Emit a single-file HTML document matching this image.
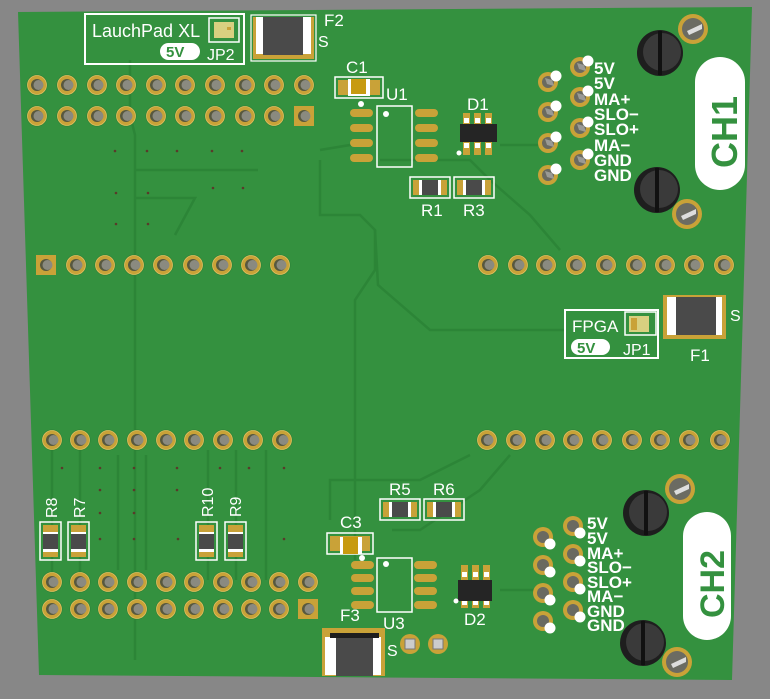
<!DOCTYPE html>
<html><head><meta charset="utf-8"><style>
html,body{margin:0;padding:0;background:#878787;}
svg{display:block}
text{font-family:"Liberation Sans",sans-serif;fill:#fff}
</style></head><body>
<svg width="770" height="699" viewBox="0 0 770 699" xmlns="http://www.w3.org/2000/svg">
<defs>
<g id="pin"><circle r="10.5" fill="#2a7f35"/><circle r="9.5" fill="#c9a238"/><circle r="9.5" fill="none" stroke="#e0c060" stroke-width="0.8"/><circle r="6" fill="#57583f"/><circle cx="1.5" r="5" fill="#8a8a80"/></g>
<g id="spin"><rect x="-10" y="-10" width="20" height="20" fill="#c9a238"/><circle r="6" fill="#57583f"/><circle cx="1.5" r="5" fill="#8a8a80"/></g>
<g id="cpin"><circle r="10" fill="#c9a238"/><circle r="6" fill="#6a6a60"/><path d="M-3,-4 L4,-2 L6,4 L-1,2Z" fill="#9a9a95"/><circle cx="8" cy="-6" r="5.5" fill="#fff"/></g>
<g id="cpinB"><circle r="10" fill="#c9a238"/><circle r="6" fill="#6a6a60"/><circle cx="7" cy="7" r="5.5" fill="#fff"/></g>
<g id="hres"><rect x="0" y="0" width="40" height="21" fill="none" stroke="#fff" stroke-width="1.5"/><rect x="3" y="3" width="34" height="15" fill="#c9a238"/><rect x="9" y="3" width="22" height="15" fill="#fff"/><rect x="12" y="3" width="16" height="15" fill="#4a4a4a"/></g>
<g id="vres"><rect x="0" y="0" width="21" height="38" fill="none" stroke="#fff" stroke-width="1.5"/><rect x="3" y="3" width="15" height="32" fill="#c9a238"/><rect x="3" y="10" width="15" height="20" fill="#fff"/><rect x="3" y="12" width="15" height="15" fill="#4a4a4a"/></g>
<g id="spad"><rect x="0" y="0" width="23" height="8" rx="4" fill="#c9a238"/></g>
<g id="screw"><circle r="23" fill="#1e1e1e"/><circle cx="2" cy="-1" r="19" fill="#3a3a3a"/><rect x="-2" y="-22" width="4" height="44" fill="#111"/></g>
<g id="gpad"><circle r="15" fill="#c9a238"/><circle r="11" fill="#6b6b62"/><path d="M-6,2 L9,-5 L9,0 L-4,6Z" fill="#ddd"/></g>
</defs>
<polygon points="18,12 752,7 732,680 39,675" fill="#34913f"/>
<g fill="none" stroke="#2c8537" stroke-width="2.5">
<polyline points="130,60 130,115 135,135 135,660"/>
<polyline points="135,170 258,170"/>
<polyline points="135,198 195,198 175,235"/>
<polyline points="320,150 350,145 372,145"/>
<polyline points="320,160 320,215 360,215 375,230 375,270 355,300 355,560"/>
<polyline points="375,230 378,285 430,330 565,330"/>
<polyline points="380,160 470,160 490,180 530,215 560,250"/>
<polyline points="500,145 545,145"/>
<polyline points="470,455 420,480 330,480 330,520"/>
<polyline points="510,455 480,490 420,530 392,530"/>
<polyline points="500,590 540,590"/>
<polyline points="52,450 52,580"/><polyline points="80,450 80,580"/><polyline points="118,455 118,570"/><polyline points="146,455 146,570"/><polyline points="208,450 208,580"/><polyline points="236,450 236,580"/><polyline points="266,450 266,580"/>
</g>
<g fill="#5a3a2a">
<circle cx="115" cy="151" r="1.3"/><circle cx="147" cy="151" r="1.3"/><circle cx="177" cy="151" r="1.3"/><circle cx="212" cy="151" r="1.3"/><circle cx="242" cy="151" r="1.3"/>
<circle cx="116" cy="193" r="1.3"/><circle cx="148" cy="193" r="1.3"/><circle cx="116" cy="224" r="1.3"/><circle cx="148" cy="224" r="1.3"/><circle cx="213" cy="188" r="1.3"/><circle cx="243" cy="188" r="1.3"/>
<circle cx="62" cy="468" r="1.3"/><circle cx="100" cy="468" r="1.3"/><circle cx="134" cy="468" r="1.3"/><circle cx="177" cy="468" r="1.3"/><circle cx="220" cy="468" r="1.3"/><circle cx="249" cy="468" r="1.3"/><circle cx="284" cy="468" r="1.3"/>
<circle cx="100" cy="490" r="1.3"/><circle cx="134" cy="490" r="1.3"/><circle cx="177" cy="490" r="1.3"/><circle cx="100" cy="513" r="1.3"/><circle cx="134" cy="513" r="1.3"/><circle cx="100" cy="539" r="1.3"/><circle cx="134" cy="539" r="1.3"/><circle cx="178" cy="539" r="1.3"/><circle cx="284" cy="539" r="1.3"/>
</g>
<!-- LaunchPad box -->
<rect x="85" y="14" width="159" height="50" fill="none" stroke="#fff" stroke-width="2"/>
<text x="92" y="37" font-size="18">LauchPad XL</text>
<rect x="160" y="43" width="40" height="17" rx="8.5" fill="#fff"/>
<text x="166" y="57" font-size="15" font-weight="bold" style="fill:#34913f">5V</text>
<text x="207" y="60" font-size="16">JP2</text>
<rect x="209" y="18" width="30" height="24" fill="none" stroke="#fff" stroke-width="1.5"/>
<rect x="214" y="22" width="20" height="16" fill="#d8d080"/><rect x="227" y="27" width="4" height="3" fill="#c9a238"/>
<!-- F2 -->
<rect x="251" y="15" width="65" height="46" fill="none" stroke="#fff" stroke-width="1.2"/>
<rect x="253" y="17" width="61" height="42" fill="#c9a238"/>
<rect x="256" y="17" width="55" height="37" fill="#fff"/>
<rect x="263" y="17" width="40" height="38" fill="#4a4a4a"/>
<text x="324" y="26" font-size="17">F2</text><text x="318" y="47" font-size="16">S</text>
<!-- top header -->
<g>
<use href="#pin" x="37" y="85"/><use href="#pin" x="67" y="85"/><use href="#pin" x="97" y="85"/><use href="#pin" x="126" y="85"/><use href="#pin" x="156" y="85"/><use href="#pin" x="185" y="85"/><use href="#pin" x="215" y="85"/><use href="#pin" x="245" y="85"/><use href="#pin" x="274" y="85"/><use href="#pin" x="304" y="85"/>
<use href="#pin" x="37" y="116"/><use href="#pin" x="67" y="116"/><use href="#pin" x="97" y="116"/><use href="#pin" x="126" y="116"/><use href="#pin" x="156" y="116"/><use href="#pin" x="185" y="116"/><use href="#pin" x="215" y="116"/><use href="#pin" x="245" y="116"/><use href="#pin" x="274" y="116"/><use href="#spin" x="304" y="116"/>
</g>
<!-- middle rows -->
<use href="#spin" x="46" y="265"/><use href="#pin" x="76" y="265"/><use href="#pin" x="105" y="265"/><use href="#pin" x="134" y="265"/><use href="#pin" x="163" y="265"/><use href="#pin" x="193" y="265"/><use href="#pin" x="222" y="265"/><use href="#pin" x="251" y="265"/><use href="#pin" x="280" y="265"/>
<use href="#pin" x="488" y="265"/><use href="#pin" x="518" y="265"/><use href="#pin" x="546" y="265"/><use href="#pin" x="576" y="265"/><use href="#pin" x="606" y="265"/><use href="#pin" x="636" y="265"/><use href="#pin" x="665" y="265"/><use href="#pin" x="694" y="265"/><use href="#pin" x="724" y="265"/>
<use href="#pin" x="52" y="440"/><use href="#pin" x="80" y="440"/><use href="#pin" x="108" y="440"/><use href="#pin" x="137" y="440"/><use href="#pin" x="166" y="440"/><use href="#pin" x="194" y="440"/><use href="#pin" x="223" y="440"/><use href="#pin" x="253" y="440"/><use href="#pin" x="282" y="440"/>
<use href="#pin" x="487" y="440"/><use href="#pin" x="516" y="440"/><use href="#pin" x="545" y="440"/><use href="#pin" x="573" y="440"/><use href="#pin" x="602" y="440"/><use href="#pin" x="632" y="440"/><use href="#pin" x="660" y="440"/><use href="#pin" x="689" y="440"/><use href="#pin" x="720" y="440"/>
<!-- bottom header -->
<use href="#pin" x="52" y="582"/><use href="#pin" x="80" y="582"/><use href="#pin" x="108" y="582"/><use href="#pin" x="137" y="582"/><use href="#pin" x="166" y="582"/><use href="#pin" x="194" y="582"/><use href="#pin" x="223" y="582"/><use href="#pin" x="251" y="582"/><use href="#pin" x="279" y="582"/><use href="#pin" x="308" y="582"/>
<use href="#pin" x="52" y="609"/><use href="#pin" x="80" y="609"/><use href="#pin" x="108" y="609"/><use href="#pin" x="137" y="609"/><use href="#pin" x="166" y="609"/><use href="#pin" x="194" y="609"/><use href="#pin" x="223" y="609"/><use href="#pin" x="251" y="609"/><use href="#pin" x="279" y="609"/><use href="#spin" x="308" y="609"/>
<!-- vertical resistors -->
<use href="#vres" x="40" y="522"/><use href="#vres" x="68" y="522"/><use href="#vres" x="196" y="522"/><use href="#vres" x="225" y="522"/>
<text transform="translate(57,518) rotate(-90)" font-size="16">R8</text>
<text transform="translate(85,518) rotate(-90)" font-size="16">R7</text>
<text transform="translate(213,517) rotate(-90)" font-size="16">R10</text>
<text transform="translate(241,517) rotate(-90)" font-size="16">R9</text>
<!-- C1 -->
<rect x="335" y="77" width="48" height="21" fill="none" stroke="#fff" stroke-width="1.5"/>
<rect x="338" y="80" width="42" height="15" fill="#c9a238"/><rect x="348" y="79" width="22" height="17" fill="#fff"/><rect x="351" y="79" width="15" height="15" fill="#c79a10"/>
<text x="346" y="73" font-size="17">C1</text>
<circle cx="361" cy="104" r="3" fill="#fff"/>
<!-- U1 -->
<rect x="377" y="106" width="35" height="61" fill="none" stroke="#fff" stroke-width="1.5"/>
<circle cx="386" cy="114" r="3" fill="#fff"/>
<use href="#spad" x="350" y="109"/><use href="#spad" x="350" y="124"/><use href="#spad" x="350" y="139"/><use href="#spad" x="350" y="154"/>
<use href="#spad" x="415" y="109"/><use href="#spad" x="415" y="124"/><use href="#spad" x="415" y="139"/><use href="#spad" x="415" y="154"/>
<text x="386" y="100" font-size="17">U1</text>
<!-- D1 -->
<g fill="#c9a238"><rect x="463" y="113" width="7" height="13"/><rect x="474" y="113" width="7" height="13"/><rect x="485" y="113" width="7" height="13"/><rect x="463" y="140" width="7" height="15"/><rect x="474" y="140" width="7" height="15"/><rect x="485" y="140" width="7" height="15"/></g>
<g fill="#fff"><rect x="464" y="118" width="5" height="5"/><rect x="475" y="118" width="5" height="5"/><rect x="486" y="118" width="5" height="5"/><rect x="464" y="143" width="5" height="5"/><rect x="475" y="143" width="5" height="5"/><rect x="486" y="143" width="5" height="5"/></g>
<rect x="460" y="124" width="37" height="18" fill="#252525"/>
<circle cx="459" cy="153" r="2.5" fill="#fff"/>
<text x="467" y="110" font-size="17">D1</text>
<use href="#hres" x="410" y="177"/><use href="#hres" x="454" y="177"/>
<text x="421" y="216" font-size="17">R1</text><text x="463" y="216" font-size="17">R3</text>
<!-- CH1 connector -->
<use href="#cpin" x="548" y="82"/><use href="#cpin" x="548" y="112"/><use href="#cpin" x="548" y="143"/><use href="#cpin" x="548" y="175"/>
<use href="#cpin" x="580" y="67"/><use href="#cpin" x="580" y="97"/><use href="#cpin" x="580" y="128"/><use href="#cpin" x="580" y="160"/>
<g font-size="17" font-weight="bold">
<text x="594" y="74">5V</text><text x="594" y="89">5V</text><text x="594" y="105">MA+</text><text x="594" y="120">SLO−</text><text x="594" y="135">SLO+</text><text x="594" y="151">MA−</text><text x="594" y="166">GND</text><text x="594" y="181">GND</text>
</g>
<rect x="695" y="57" width="50" height="133" rx="25" fill="#fff"/>
<text transform="translate(737,168) rotate(-90)" font-size="36" font-weight="bold" style="fill:#34913f">CH1</text>
<use href="#screw" x="660" y="53"/><use href="#screw" x="657" y="190"/>
<use href="#gpad" x="693" y="29"/><use href="#gpad" x="687" y="214"/>
<!-- FPGA -->
<rect x="565" y="310" width="93" height="48" fill="none" stroke="#fff" stroke-width="2"/>
<text x="572" y="332" font-size="17">FPGA</text>
<rect x="571" y="339" width="39" height="16" rx="8" fill="#fff"/>
<text x="577" y="353" font-size="15" font-weight="bold" style="fill:#34913f">5V</text>
<text x="623" y="355" font-size="16">JP1</text>
<rect x="625" y="312" width="31" height="23" fill="none" stroke="#fff" stroke-width="1.5"/>
<rect x="629" y="316" width="20" height="16" fill="#d8d080"/><rect x="631" y="318" width="6" height="12" fill="#c9a238"/>
<!-- F1 -->
<rect x="663" y="295" width="63" height="44" fill="#c9a238"/>
<rect x="667" y="297" width="55" height="38" fill="#fff"/>
<rect x="676" y="297" width="40" height="38" fill="#4a4a4a"/>
<text x="690" y="361" font-size="17">F1</text><text x="730" y="321" font-size="16">S</text>
<!-- bottom components -->
<use href="#hres" x="380" y="499"/><use href="#hres" x="424" y="499"/>
<text x="389" y="495" font-size="17">R5</text><text x="433" y="495" font-size="17">R6</text>
<rect x="327" y="533" width="46" height="21" fill="none" stroke="#fff" stroke-width="1.5"/>
<rect x="330" y="536" width="40" height="15" fill="#c9a238"/><rect x="340" y="537" width="22" height="17" fill="#fff"/><rect x="343" y="537" width="15" height="17" fill="#c79a10"/>
<text x="340" y="528" font-size="17">C3</text>
<circle cx="362" cy="558" r="3" fill="#fff"/>
<rect x="377" y="558" width="35" height="54" fill="none" stroke="#fff" stroke-width="1.5"/>
<circle cx="386" cy="564" r="3" fill="#fff"/>
<use href="#spad" x="351" y="561"/><use href="#spad" x="351" y="574"/><use href="#spad" x="351" y="587"/><use href="#spad" x="351" y="601"/>
<use href="#spad" x="414" y="561"/><use href="#spad" x="414" y="574"/><use href="#spad" x="414" y="587"/><use href="#spad" x="414" y="601"/>
<text x="383" y="629" font-size="17">U3</text>
<g fill="#c9a238"><rect x="461" y="565" width="7" height="15"/><rect x="472" y="565" width="7" height="15"/><rect x="483" y="565" width="7" height="15"/><rect x="461" y="600" width="7" height="8"/><rect x="472" y="600" width="7" height="8"/><rect x="483" y="600" width="7" height="8"/></g>
<g fill="#fff"><rect x="462" y="572" width="5" height="5"/><rect x="473" y="572" width="5" height="5"/><rect x="484" y="572" width="5" height="5"/><rect x="462" y="601" width="5" height="4"/><rect x="473" y="601" width="5" height="4"/><rect x="484" y="601" width="5" height="4"/></g>
<rect x="458" y="580" width="34" height="21" fill="#252525"/>
<circle cx="456" cy="601" r="2.5" fill="#fff"/>
<text x="464" y="625" font-size="17">D2</text>
<rect x="322" y="628" width="63" height="48" fill="#c9a238"/>
<rect x="325" y="637" width="56" height="38" fill="#fff"/>
<rect x="330" y="633" width="49" height="5" fill="#1e1e1e"/>
<rect x="336" y="638" width="37" height="38" fill="#4a4a4a"/>
<text x="340" y="621" font-size="17">F3</text><text x="387" y="656" font-size="16">S</text>
<g><circle cx="410" cy="644" r="10" fill="#c9a238"/><rect x="405" y="639" width="10" height="10" fill="#ccc" stroke="#777"/><circle cx="438" cy="644" r="10" fill="#c9a238"/><rect x="433" y="639" width="10" height="10" fill="#ccc" stroke="#777"/></g>
<!-- CH2 connector -->
<use href="#cpinB" x="543" y="537"/><use href="#cpinB" x="543" y="565"/><use href="#cpinB" x="543" y="593"/><use href="#cpinB" x="543" y="621"/>
<use href="#cpinB" x="573" y="526"/><use href="#cpinB" x="573" y="554"/><use href="#cpinB" x="573" y="582"/><use href="#cpinB" x="573" y="610"/>
<g font-size="17" font-weight="bold">
<text x="587" y="529">5V</text><text x="587" y="544">5V</text><text x="587" y="559">MA+</text><text x="587" y="573">SLO−</text><text x="587" y="588">SLO+</text><text x="587" y="602">MA−</text><text x="587" y="617">GND</text><text x="587" y="631">GND</text>
</g>
<rect x="683" y="512" width="48" height="128" rx="24" fill="#fff"/>
<text transform="translate(724,618) rotate(-90)" font-size="34" font-weight="bold" style="fill:#34913f">CH2</text>
<use href="#screw" x="646" y="513"/><use href="#screw" x="643" y="643"/>
<use href="#gpad" x="680" y="489"/><use href="#gpad" x="677" y="662"/>
</svg>
</body></html>
